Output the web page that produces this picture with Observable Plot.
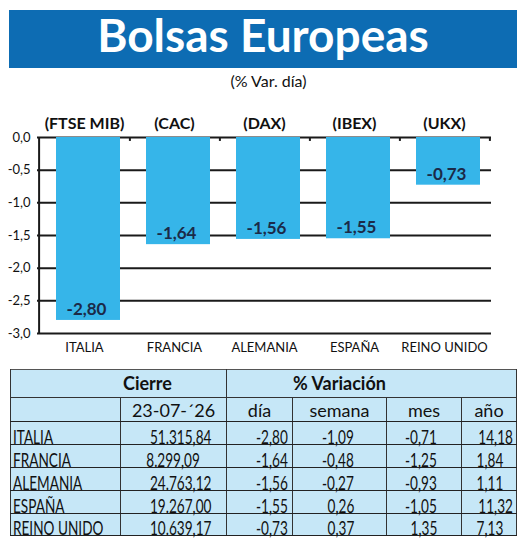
<!DOCTYPE html>
<html>
<head>
<meta charset="utf-8">
<script src="https://cdn.jsdelivr.net/npm/d3@7"></script>
<script src="https://cdn.jsdelivr.net/npm/@observablehq/plot@0.6"></script>
<style>
  html, body { margin: 0; padding: 0; background: #fff; }
  body { width: 520px; height: 547px; position: relative; overflow: hidden; font-family: Lato, "Open Sans", sans-serif; }
  #title { position: absolute; left: 9px; top: 10px; width: 508px; height: 58px; background: #0d6cb3; color: #fff;
           font: bold 46px Lato, sans-serif; line-height: 50px; text-align: center; }
  #subtitle { position: absolute; left: 0; top: 73px; width: 537px; text-align: center; font: 16px Lato, sans-serif; line-height: 16px; color: #111; }
  #chart { position: absolute; left: 0; top: 95px; }
  #tbl { position: absolute; left: 10px; top: 369px; width: 506px; border-collapse: collapse; table-layout: fixed;
         background: #c6e7f7; border: 1px solid #555; color: #111; }
  #tbl td { padding: 0; vertical-align: bottom; border-left: 1.5px solid #333; border-right: 1.5px solid #333; white-space: nowrap; overflow: visible; }
  #tbl tr.h1 td { height: 21px; font: bold 18px Lato, sans-serif; line-height: 16px; padding-bottom: 6px; border-bottom: 1.5px solid #333; text-align: left; }
  #tbl tr.h2 td { height: 20px; font: 18px Lato, sans-serif; line-height: 16px; padding-bottom: 3px; text-align: center; border-bottom: 1.5px solid #222; }
  #tbl tr.d td { height: 21.9px; font: 20px Lato, sans-serif; line-height: 16px; border-bottom: 1.5px solid #222; text-align: right; }
  #tbl tr.d td span { display: inline-block; transform: scaleX(0.68); transform-origin: right bottom; }
  #tbl tr.d td.name { text-align: left; padding-left: 2px; }
  #tbl tr.d td.name span { transform-origin: left bottom; }
</style>
</head>
<body>
<div id="title">Bolsas Europeas</div>
<div id="subtitle">(% Var. día)</div>
<div id="chart"></div>
<table id="tbl"></table>
<script>
// ---- data ----
const categories = ["ITALIA", "FRANCIA", "ALEMANIA", "ESPAÑA", "REINO UNIDO"];
const indices = ["(FTSE MIB)", "(CAC)", "(DAX)", "(IBEX)", "(UKX)"];
const dayChange = [-2.80, -1.64, -1.56, -1.55, -0.73];
const yTicks = [0, -0.5, -1, -1.5, -2, -2.5, -3];
const closeDate = "23-07-´26";
const closeValues = [51315.84, 8299.09, 24763.12, 19267.00, 10639.17];
const weekChange = [-1.09, -0.48, -0.27, 0.26, 0.37];
const monthChange = [-0.71, -1.25, -0.93, -1.05, 1.35];
const yearChange = [14.18, 1.84, 1.11, 11.32, 7.13];
const tableHeader = ["Cierre", "% Variación"];
const tableColumns = ["", closeDate, "día", "semana", "mes", "año"];

const loc = d3.formatLocale({decimal: ",", thousands: ".", grouping: [3], currency: ["", "€"], minus: "-"});
const f2 = loc.format(".2f");
const f1 = loc.format(".1f");
const fClose = loc.format(",.2f");

const data = categories.map((c, i) => ({cat: c, idx: indices[i], value: dayChange[i]}));

// ---- chart ----
const W = 520, H = 270, mL = 37, mR = 29, mT = 42, mB = 32;
const pInner = 0.286, pOuter = 0.143;
const step = (W - mL - mR) / (categories.length - pInner + 2 * pOuter);
const lineColor = "#1a1a1a";

const chart = Plot.plot({
  width: W, height: H,
  marginLeft: mL, marginRight: mR, marginTop: mT, marginBottom: mB,
  style: {fontFamily: "Lato, sans-serif", background: "transparent", color: "#111"},
  x: {domain: categories, paddingInner: pInner, paddingOuter: pOuter, align: 0.5, label: null},
  y: {domain: [d3.min(yTicks), d3.max(yTicks)], label: null},
  marks: [
    Plot.ruleY(yTicks, {stroke: lineColor, strokeWidth: 2}),
    Plot.barY(data, {x: "cat", y: "value", fill: "#36b5e9", dx: 4}),
    Plot.ruleX([categories[0]], {x: d => d, dx: -step / 2, y1: d3.min(yTicks), y2: d3.max(yTicks), stroke: lineColor, strokeWidth: 2}),
    Plot.ruleX(categories, {x: d => d, dx: step / 2, y1: 0, y2: -0.06, stroke: lineColor, strokeWidth: 2}),
    Plot.axisY(yTicks, {tickSize: 0, tickPadding: 7, tickFormat: f1, fontSize: 13, label: null}),
    Plot.axisX({tickSize: 0, tickPadding: 9, fontSize: 13, label: null}),
    Plot.text(data, {x: "cat", text: "idx", frameAnchor: "top", dy: -20, fontWeight: "bold", fontSize: 16, fill: "#111"}),
    Plot.text(data, {x: "cat", y: "value", text: d => f2(d.value), dy: -11, dx: 2, fontWeight: "bold", fontSize: 17, fill: "#1b2a48"})
  ]
});
document.getElementById("chart").appendChild(chart);

// ---- table ----
const tbl = document.getElementById("tbl");
tbl.innerHTML =
  `<colgroup><col style="width:110px"><col style="width:106px"><col style="width:66px"><col style="width:94px"><col style="width:75px"><col style="width:55px"></colgroup>` +
  `<tr class="h1"><td colspan="2" style="padding-left:112px">${tableHeader[0]}</td><td colspan="4" style="padding-left:66px">${tableHeader[1]}</td></tr>` +
  `<tr class="h2">${tableColumns.map(c => `<td>${c}</td>`).join("")}</tr>` +
  categories.map((c, i) => {
    const cells = [
      `<td class="name"><span>${c}</span></td>`,
      `<td style="padding-right:27px"><span>${fClose(closeValues[i])}</span></td>`,
      `<td style="padding-right:4px"><span>${f2(dayChange[i])}</span></td>`,
      `<td style="padding-right:32px"><span>${f2(weekChange[i])}</span></td>`,
      `<td style="padding-right:24px"><span>${f2(monthChange[i])}</span></td>`,
      `<td style="padding-right:13px"><span>${f2(yearChange[i])}</span></td>`
    ];
    return `<tr class="d">${cells.join("")}</tr>`;
  }).join("");
</script>
</body>
</html>
